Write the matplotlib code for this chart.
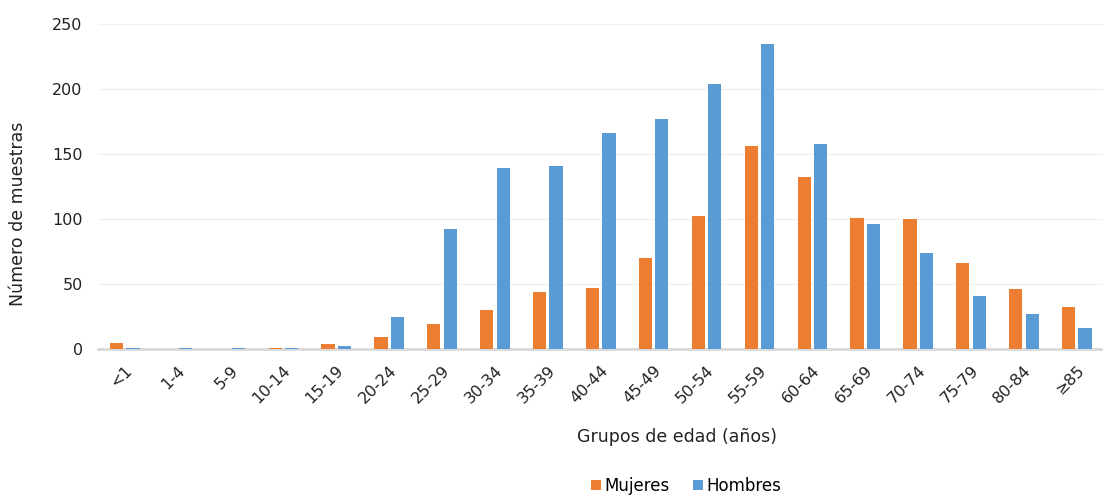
import numpy as np
import matplotlib.pyplot as plt

# age groups and sample counts by sex
grupos = ['<1', '1-4', '5-9', '10-14', '15-19', '20-24', '25-29', '30-34', '35-39',
          '40-44', '45-49', '50-54', '55-59', '60-64', '65-69', '70-74', '75-79',
          '80-84', '≥85']
mujeres = [5, 0, 0, 1, 4, 9, 19, 30, 44, 47, 70, 102, 156, 132, 101, 100, 66, 46, 32]
hombres = [1, 1, 1, 1, 2, 25, 92, 139, 141, 166, 177, 204, 235, 158, 96, 74, 41, 27, 16]

plt.rcParams['font.family'] = ['DejaVu Sans']

fig = plt.figure(figsize=(11.03, 4.95), dpi=100)
ax = fig.add_axes([98 / 1103, 1 - 349 / 495, 1005 / 1103, 325 / 495])

x = np.arange(len(grupos))
w = 0.25
ax.bar(x - 0.15, mujeres, w, color='#ED7D31', label='Mujeres', zorder=3)
ax.bar(x + 0.16, hombres, w, color='#5B9BD5', label='Hombres', zorder=3)

ax.set_xlim(-0.5, len(grupos) - 0.5)
ax.set_ylim(0, 250)
ax.set_yticks(range(0, 251, 50))
ax.yaxis.grid(True, color='#f0f0f0', linewidth=1, zorder=0)

ax.set_xticks(x)
ax.set_xticklabels(grupos, rotation=45, ha='right', rotation_mode='anchor')
ax.tick_params(axis='both', length=0, labelsize=11.5, colors='#222222')
ax.tick_params(axis='x', pad=10)
ax.tick_params(axis='y', pad=11)

for s in ['top', 'right', 'left']:
    ax.spines[s].set_visible(False)
ax.spines['bottom'].set_color('#d9d9d9')
ax.spines['bottom'].set_linewidth(2)
ax.spines['bottom'].set_zorder(2)

fig.text(18 / 1103, 1 - 214 / 495, 'Número de muestras', rotation=90,
         ha='center', va='center', fontsize=12.5, color='#222222')
fig.text(677 / 1103, 1 - 437 / 495, 'Grupos de edad (años)',
         ha='center', va='center', fontsize=12.5, color='#222222')

fig.legend(loc='center', bbox_to_anchor=(686 / 1103, 1 - 486 / 495), ncol=2,
           frameon=False, fontsize=12, handlelength=0.6, handleheight=0.6,
           handletextpad=0.2, columnspacing=1.4)

fig.savefig('out.png', dpi=100)
